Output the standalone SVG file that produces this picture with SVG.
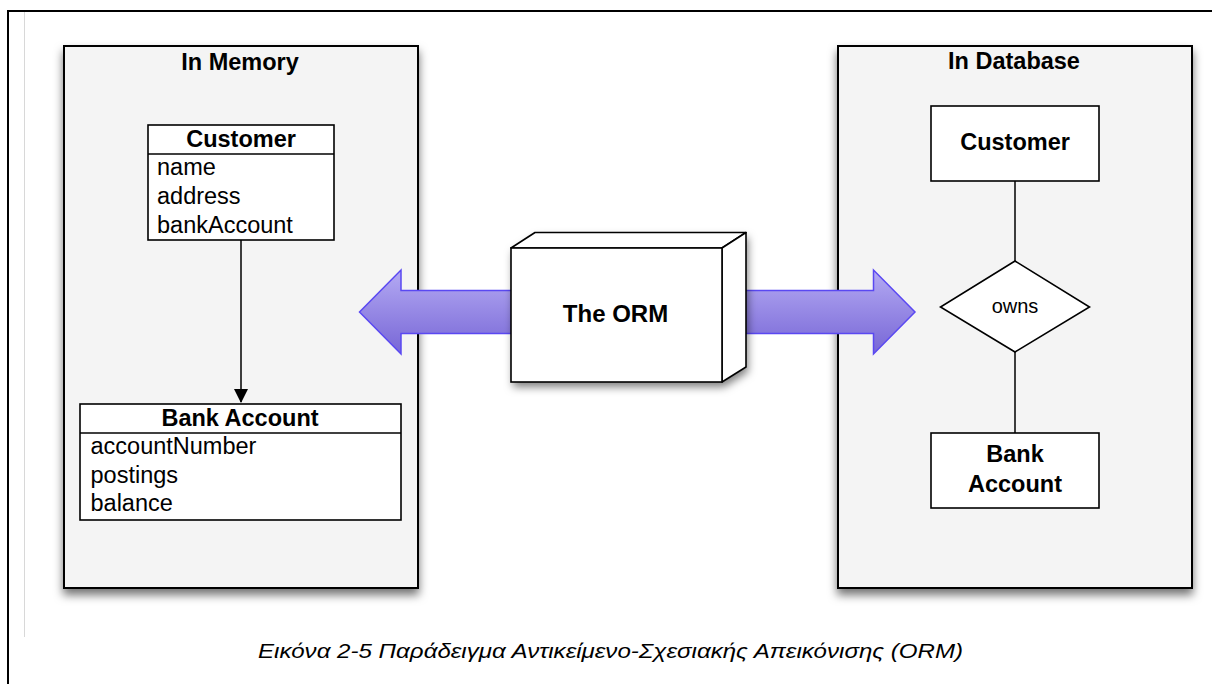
<svg xmlns="http://www.w3.org/2000/svg" width="1212" height="684" viewBox="0 0 1212 684">
<defs>
<filter id="sh" x="-10%" y="-10%" width="120%" height="125%">
<feDropShadow dx="0" dy="6" stdDeviation="5" flood-color="#000" flood-opacity="0.55"/>
</filter>
<filter id="sh2" x="-10%" y="-10%" width="125%" height="130%">
<feDropShadow dx="2" dy="5" stdDeviation="4" flood-color="#000" flood-opacity="0.5"/>
</filter>
<linearGradient id="pg" x1="0" y1="0" x2="0" y2="1">
<stop offset="0" stop-color="#b4aaf3"/>
<stop offset="1" stop-color="#7766d6"/>
</linearGradient>
<marker id="ah" markerWidth="14" markerHeight="22" refX="13" refY="7" orient="auto" markerUnits="userSpaceOnUse" viewBox="0 0 14 14">
<path d="M0,0 L14,7 L0,14 Z" fill="#000"/>
</marker>
</defs>
<style>
.panel{fill:#f4f4f4;stroke:#000;stroke-width:2}
.box{fill:#fff;stroke:#000;stroke-width:1.6}
.ln{stroke:#000;stroke-width:1.5;fill:none}
.b{font-family:"Liberation Sans",Arial,sans-serif;font-weight:bold;font-size:23.5px;fill:#000}
.r{font-family:"Liberation Sans",Arial,sans-serif;font-size:23.5px;fill:#000}
.c{text-anchor:middle}
.cap{font-family:"Liberation Sans",Arial,sans-serif;font-style:italic;font-size:21px;fill:#000}
</style>
<rect width="1212" height="684" fill="#fff"/>
<g id="frame">
<line x1="8" y1="11" x2="1212" y2="11" stroke="#000" stroke-width="2"/>
<line x1="8" y1="10" x2="8" y2="684" stroke="#000" stroke-width="2"/>
<line x1="24.5" y1="12" x2="24.5" y2="637" stroke="#d8d8d8" stroke-width="1"/>
</g>
<g id="in-memory">
<rect class="panel" x="64" y="46" width="354" height="542" filter="url(#sh)"/>
<text class="b c" x="240" y="70">In Memory</text>
</g>
<g id="in-database">
<rect class="panel" x="838" y="46" width="354" height="542" filter="url(#sh)"/>
<text class="b c" x="1014" y="69">In Database</text>
</g>
<g id="connectors">
<line class="ln" x1="241" y1="240" x2="241" y2="402" marker-end="url(#ah)"/>
<line class="ln" x1="1015" y1="181" x2="1015" y2="261"/>
<line class="ln" x1="1015" y1="352" x2="1015" y2="433"/>
<path d="M359.5,312 L401,270 L401,290.5 L873.5,290.5 L873.5,270 L915,312 L873.5,354 L873.5,333.5 L401,333.5 L401,354 Z" fill="url(#pg)" stroke="#5a48f2" stroke-width="1.5" stroke-linejoin="miter"/>
</g>
<g id="customer-class">
<rect class="box" x="148" y="125" width="186" height="115"/>
<line class="ln" x1="148" y1="154" x2="334" y2="154"/>
<text class="b c" x="241" y="146.5">Customer</text>
<text class="r" x="157" y="175">name</text>
<text class="r" x="157" y="204">address</text>
<text class="r" x="157" y="232.5">bankAccount</text>
</g>
<g id="bank-account-class">
<rect class="box" x="80" y="404" width="321" height="116"/>
<line class="ln" x1="80" y1="433" x2="401" y2="433"/>
<text class="b c" x="240" y="426">Bank Account</text>
<text class="r" x="90.5" y="454">accountNumber</text>
<text class="r" x="90.5" y="482.5">postings</text>
<text class="r" x="90.5" y="511">balance</text>
</g>
<g id="orm">
<g filter="url(#sh2)">
<path d="M511,248 L535,232.5 L746,232.5 L746,367 L722,382 L511,382 Z" fill="#fff"/>
</g>
<path d="M511,248 L535,232.5 L746,232.5 L722,248 Z" fill="#fff" stroke="#000" stroke-width="1.6" stroke-linejoin="round"/>
<path d="M722,248 L746,232.5 L746,367 L722,382 Z" fill="#fff" stroke="#000" stroke-width="1.6" stroke-linejoin="round"/>
<rect x="511" y="248" width="211" height="134" fill="#fff" stroke="#000" stroke-width="1.6"/>
<text class="b c" x="615.5" y="322" style="font-size:24px">The ORM</text>
</g>
<g id="customer-entity">
<rect class="box" x="931" y="106" width="168" height="75"/>
<text class="b c" x="1015" y="150">Customer</text>
</g>
<g id="owns">
<polygon class="box" points="1015,261 1089.5,307 1015,352 940.5,307"/>
<text class="r c" x="1015" y="313" style="font-size:20px">owns</text>
</g>
<g id="bank-account-entity">
<rect class="box" x="931" y="433" width="168" height="75"/>
<text class="b c" x="1015" y="462">Bank</text>
<text class="b c" x="1015" y="491.5">Account</text>
</g>
<g id="caption">
<text class="cap" x="258" y="658" textLength="705" lengthAdjust="spacingAndGlyphs">Εικόνα 2-5 Παράδειγμα Αντικείμενο-Σχεσιακής Απεικόνισης (ORM)</text>
</g>
</svg>
